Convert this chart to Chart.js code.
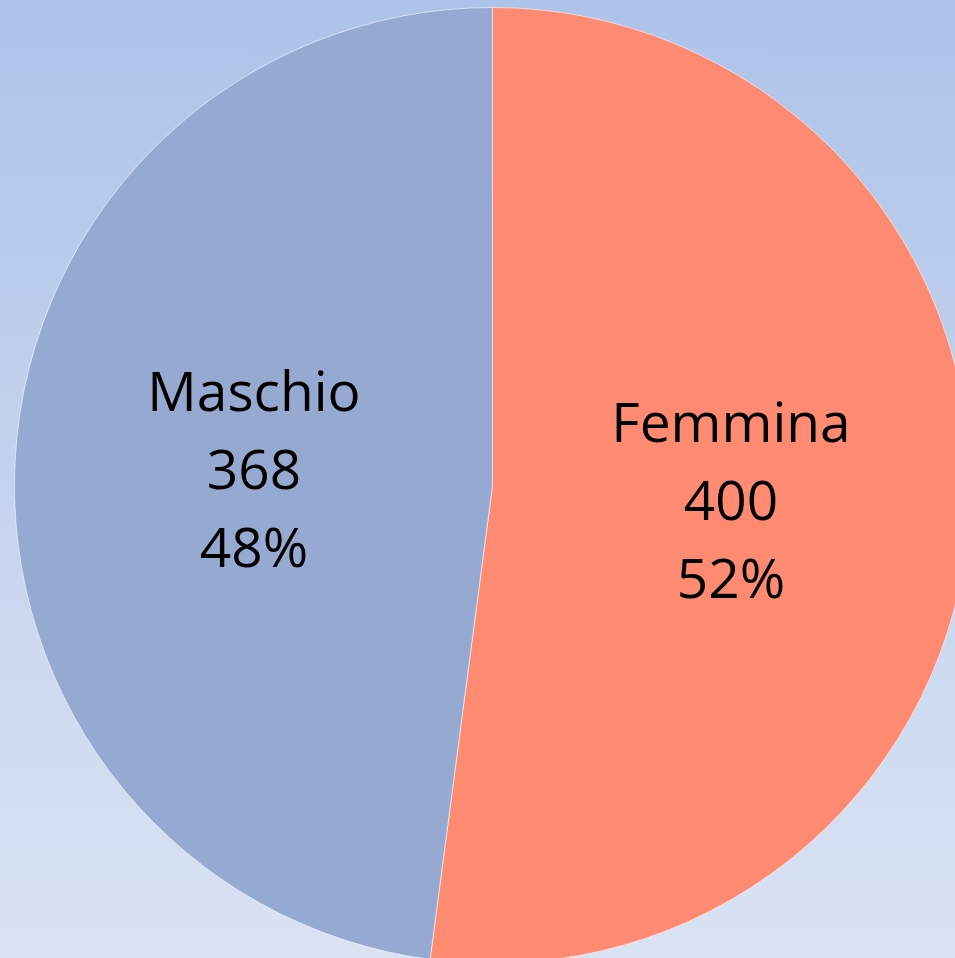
<!DOCTYPE html>
<html>
<head>
<meta charset="utf-8">
<script src="https://cdn.jsdelivr.net/npm/chart.js@4"></script>
<style>
  html, body {
    margin: 0;
    padding: 0;
    width: 955px;
    height: 958px;
    overflow: hidden;
  }
  body {
    background: linear-gradient(to bottom, #aec3e9 0%, #c4d3ee 50%, #dae3f4 100%);
    position: relative;
  }
  #box {
    position: absolute;
    left: 14px;
    top: 7px;
    width: 957px;
    height: 957px;
  }
</style>
</head>
<body>
<div id="box"><canvas id="torta"></canvas></div>
<script>
// dati
const categorie = ['Femmina', 'Maschio'];
const valori = [400, 368];
const colori = ['#ff8a72', '#95a9d1'];

const totale = valori.reduce((a, b) => a + b, 0);

// etichette dentro le fette: nome, valore, percentuale
const etichettePlugin = {
  id: 'etichette',
  afterDatasetsDraw(chart) {
    const ctx = chart.ctx;
    const meta = chart.getDatasetMeta(0);
    ctx.save();
    ctx.fillStyle = '#000000';
    ctx.font = '55px "Open Sans", sans-serif';
    ctx.textAlign = 'center';
    ctx.textBaseline = 'middle';
    meta.data.forEach((arc, i) => {
      const p = arc.getCenterPoint();
      const perc = Math.round(valori[i] / totale * 100) + '%';
      const righe = [categorie[i], String(valori[i]), perc];
      const passo = 78;
      righe.forEach((t, j) => {
        ctx.fillText(t, p.x, p.y + 3 + (j - 1) * passo);
      });
    });
    ctx.restore();
  }
};

const torta = document.getElementById('torta');
new Chart(torta, {
  type: 'pie',
  data: {
    labels: categorie,
    datasets: [{
      data: valori,
      backgroundColor: colori,
      borderColor: 'rgba(255,255,255,0.55)',
      borderWidth: 1
    }]
  },
  options: {
    responsive: true,
    maintainAspectRatio: false,
    animation: false,
    layout: { padding: 0 },
    plugins: {
      legend: { display: false },
      tooltip: { enabled: false }
    }
  },
  plugins: [etichettePlugin]
});
</script>
</body>
</html>
